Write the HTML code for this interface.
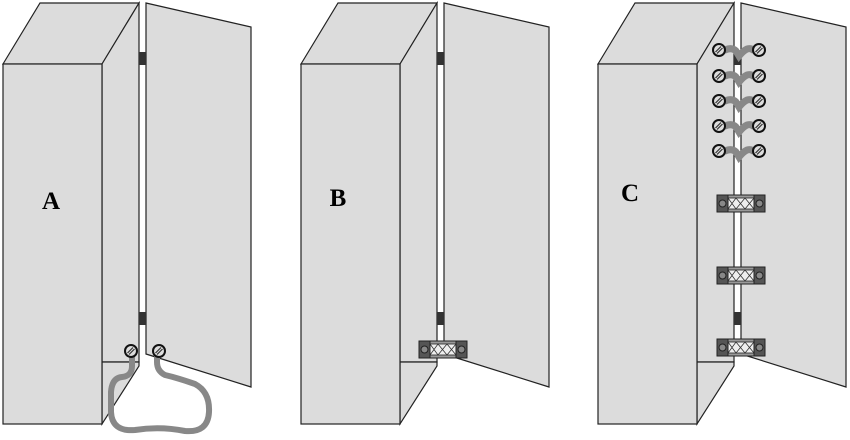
<!DOCTYPE html>
<html><head><meta charset="utf-8"><style>
html,body{margin:0;padding:0;background:#fff;width:850px;height:440px;overflow:hidden}
svg{display:block}
text{font-family:"Liberation Serif",serif;font-weight:bold;font-size:25px;fill:#000}
</style></head><body>
<svg width="850" height="440" viewBox="0 0 850 440">
<defs>
  <g id="cab">
    <polygon points="3,64 40,3 139,3 102,64" fill="#dcdcdc" stroke="#222" stroke-width="1.2"/>
    <polygon points="102,64 139,3 139,362 102,362" fill="#dcdcdc" stroke="#222" stroke-width="1.2"/>
    <polygon points="102,362 139,362 139,366 102,424" fill="#dcdcdc" stroke="#222" stroke-width="1.2"/>
    <rect x="3" y="64" width="99" height="360" fill="#dcdcdc" stroke="#222" stroke-width="1.2"/>
    <polygon points="146,3 251,27 251,387 146,354" fill="#dcdcdc" stroke="#222" stroke-width="1.2"/>
    <rect x="139" y="52" width="7" height="13" fill="#333"/>
    <rect x="139" y="312" width="7" height="13" fill="#333"/>
  </g>
  <g id="screw">
    <circle cx="0" cy="0" r="6" fill="#ddd" stroke="#111" stroke-width="2"/>
    <line x1="-3.5" y1="2" x2="2" y2="-3.5" stroke="#333" stroke-width="1.2"/>
    <line x1="-2" y1="3.5" x2="3.5" y2="-2" stroke="#333" stroke-width="1.2"/>
  </g>
  <g id="bracket">
    <rect x="0" y="0" width="48" height="17" fill="#999" stroke="#222"/>
    <rect x="11" y="3" width="26" height="11" fill="#eee" stroke="#222" stroke-width="0.8"/>
    <path d="M11,3 L19,14 L28,3 L37,14 M11,14 L19,3 L28,14 L37,3" stroke="#333" stroke-width="0.8" fill="none"/>
    <rect x="0" y="0" width="11" height="17" fill="#555" stroke="#222"/>
    <rect x="37" y="0" width="11" height="17" fill="#555" stroke="#222"/>
    <circle cx="5.5" cy="8.5" r="3.5" fill="#888" stroke="#222"/>
    <circle cx="42.5" cy="8.5" r="3.5" fill="#888" stroke="#222"/>
  </g>
  <g id="strap">
    <path d="M6,0 Q13,-3 17,1 Q20,6 20,6 Q24,1 28,-1 Q32,-2 34,0" stroke="#888" stroke-width="7" fill="none" stroke-linecap="round"/>
    <use href="#screw" x="0" y="0"/>
    <use href="#screw" x="40" y="0"/>
  </g>
</defs>

<g>
  <use href="#cab"/>
  <text x="51" y="209" text-anchor="middle">A</text>
  <path d="M132,353 L132,366 Q132,376 122,377 Q112,378 111,392 L111,412 Q112,432 135,430 Q160,426 185,431 Q208,433 209,412 Q210,392 195,384 Q178,378 165,375 Q157,371 157,362 L157,353" stroke="#888" stroke-width="6" fill="none" stroke-linecap="round"/>
  <use href="#screw" x="131" y="351"/>
  <use href="#screw" x="159" y="351"/>
</g>

<g transform="translate(298,0)">
  <use href="#cab"/>
  <text x="40" y="206" text-anchor="middle">B</text>
  <use href="#bracket" x="121" y="341"/>
</g>

<g transform="translate(595,0)">
  <use href="#cab"/>
  <text x="35" y="201" text-anchor="middle">C</text>
  <use href="#strap" x="124" y="50"/>
  <use href="#strap" x="124" y="76"/>
  <use href="#strap" x="124" y="101"/>
  <use href="#strap" x="124" y="126"/>
  <use href="#strap" x="124" y="151"/>
  <use href="#bracket" x="122" y="195"/>
  <use href="#bracket" x="122" y="267"/>
  <use href="#bracket" x="122" y="339"/>
</g>
</svg>
</body></html>
